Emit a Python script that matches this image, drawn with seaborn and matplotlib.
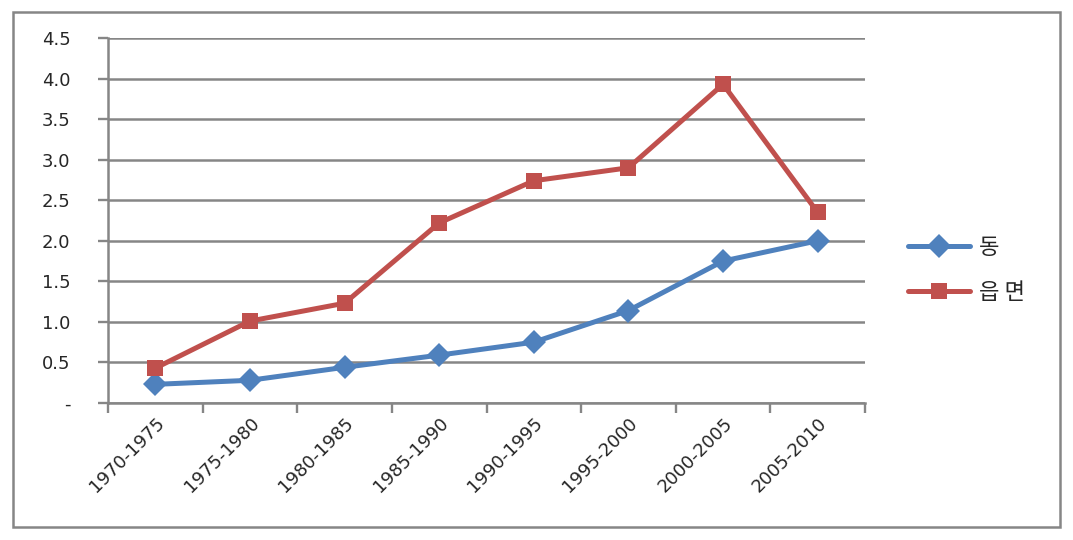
import matplotlib
matplotlib.use("Agg")
import matplotlib.pyplot as plt
import seaborn as sns
import pandas as pd
from matplotlib.patches import Rectangle
from matplotlib.lines import Line2D

periods = ["1970-1975", "1975-1980", "1980-1985", "1985-1990",
           "1990-1995", "1995-2000", "2000-2005", "2005-2010"]
dong = [0.23, 0.28, 0.44, 0.59, 0.75, 1.14, 1.75, 2.00]
eupmyeon = [0.43, 1.01, 1.23, 2.22, 2.74, 2.90, 3.93, 2.35]
series_names = ["동", "읍 면"]
y_ticks = [0, 0.5, 1.0, 1.5, 2.0, 2.5, 3.0, 3.5, 4.0, 4.5]
y_tick_labels = ["-", "0.5", "1.0", "1.5", "2.0", "2.5", "3.0", "3.5", "4.0", "4.5"]

df = pd.DataFrame({
    "period": periods * 2,
    "value": dong + eupmyeon,
    "series": [series_names[0]] * len(periods) + [series_names[1]] * len(periods),
})

sns.set_theme(style="white")
plt.rcParams['font.family'] = ['DejaVu Sans', 'Noto Sans CJK KR']

W, H = 1073, 540
fig = plt.figure(figsize=(W / 100, H / 100), dpi=100)
ax = fig.add_axes([108 / W, 1 - 403 / H, (865 - 108) / W, (403 - 38) / H])

grid_c = "#868686"
colors = {"동": "#4F81BD", "읍 면": "#C0504D"}
markers = {"동": "D", "읍 면": "s"}
lw = 3.6

sns.lineplot(data=df, x="period", y="value", hue="series", style="series",
             palette=colors, markers=markers, dashes=False, sort=False,
             linewidth=lw, markersize=12, markeredgewidth=0, ax=ax, legend=False)

ax.set_xlim(-0.5, len(periods) - 0.5)
ax.set_ylim(0, 4.5)
ax.set_yticks(y_ticks)
ax.set_yticklabels(y_tick_labels, fontsize=13)
ax.set_xticks(range(len(periods)))
ax.set_xticklabels(periods, rotation=45, ha="right", rotation_mode="anchor", fontsize=13)
ax.set_xticks([i - 0.5 for i in range(len(periods) + 1)], minor=True)
ax.tick_params(axis="x", which="major", bottom=False, length=0, pad=8)
ax.tick_params(axis="x", which="minor", bottom=True, length=7, width=1.7, color=grid_c, direction="out")
ax.tick_params(axis="y", left=True, length=7, width=1.7, color=grid_c, direction="out", pad=20)
ax.set_xlabel("")
ax.set_ylabel("")
ax.grid(axis="y", color=grid_c, linewidth=1.8)
ax.set_axisbelow(True)
for s in ["top", "right"]:
    ax.spines[s].set_visible(False)
for s in ["left", "bottom"]:
    ax.spines[s].set_color(grid_c)
    ax.spines[s].set_linewidth(1.8)

handles = [Line2D([], [], color=colors[n], marker=markers[n], linewidth=lw,
                  markersize=12, markeredgewidth=0) for n in series_names]
fig.legend(handles, series_names, loc="center left", bbox_to_anchor=(888 / W, 1 - 270 / H),
           frameon=False, handlelength=2.8, handletextpad=0.4, labelspacing=1.0,
           prop={"family": ["Noto Sans CJK KR"], "size": 16})

fig.patches.append(Rectangle((13 / W, 1 - 527 / H), (1060 - 13) / W, (527 - 12) / H,
                             transform=fig.transFigure, fill=False,
                             edgecolor=grid_c, linewidth=1.8))

fig.savefig("out.png", dpi=100, facecolor="white")
